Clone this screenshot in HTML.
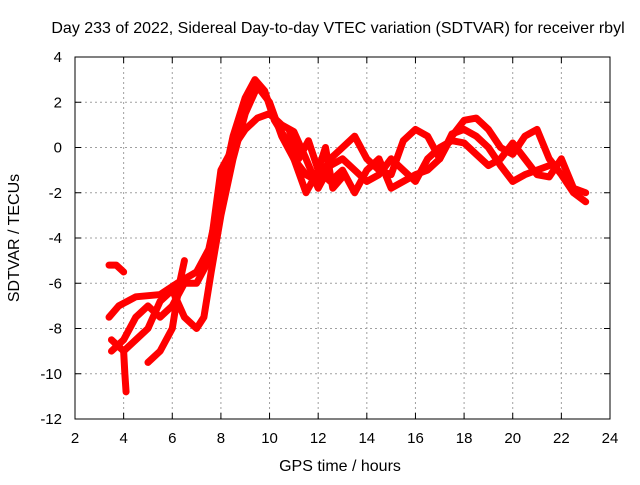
<!DOCTYPE html>
<html><head><meta charset="utf-8"><style>
body{margin:0;background:#fff}
svg text{font-family:"Liberation Sans",sans-serif;font-size:15px;fill:#000}
svg text.big{font-size:16px}
</style></head><body>
<svg width="640" height="480">
<rect width="640" height="480" fill="#fff"/>
<g id="grid"></g>
<g id="series"></g>
<rect x="75" y="57" width="535" height="362" fill="none" stroke="#000" stroke-width="1"/>
<g id="ticks"></g>
<text class="big" x="338" y="33" text-anchor="middle">Day 233 of 2022, Sidereal Day-to-day VTEC variation (SDTVAR) for receiver rbyl</text>
<text class="big" x="340" y="471" text-anchor="middle">GPS time / hours</text>
<text class="big" transform="translate(19,238) rotate(-90)" text-anchor="middle">SDTVAR / TECUs</text>
</svg>
<script>
const xTicks=[2,4,6,8,10,12,14,16,18,20,22,24];
const yTicks=[4,2,0,-2,-4,-6,-8,-10,-12];
const seriesA=[[3.4,-7.5],[3.8,-7.0],[4.5,-6.6],[5.5,-6.5],[6.2,-6.0],[7.0,-5.5],[7.5,-4.5],[8.0,-2],[8.5,0.5],[9.0,2.2],[9.4,3.0],[9.8,2.5],[10.2,1.2],[10.6,0.5],[11.0,-0.5],[11.5,-1.2],[12.0,-1.5],[12.5,-0.5],[13,0],[13.5,0.5],[14,-0.5],[14.5,-1],[15,-1.2],[15.5,0.3],[16,0.8],[16.5,0.5],[17,-0.5],[17.5,0.5],[18,1.2],[18.5,1.3],[19,0.8],[19.5,0],[20,-0.3],[20.5,0.5],[21,0.8],[21.5,-0.5],[22,-1.2],[22.5,-2],[23,-2.4]];
const seriesB=[[3.5,-9],[4.0,-8.5],[4.5,-7.5],[5,-7],[5.5,-7.5],[6,-7],[6.5,-6],[7,-6],[7.5,-5],[8,-1],[8.5,0],[9,0.8],[9.5,1.3],[10,1.5],[10.5,1],[11,0.7],[11.5,-0.5],[12,-1.8],[12.5,-0.8],[13,-0.5],[13.5,-1],[14,-1.5],[14.5,-1.2],[15,-0.5],[15.5,-1],[16,-1.5],[16.5,-0.5],[17,0],[17.5,0.3],[18,0.2],[18.5,-0.3],[19,-0.8],[19.5,-0.5],[20,0.2],[20.5,-0.5],[21,-1.2],[21.5,-1.3],[22,-0.5],[22.5,-1.8],[23,-2]];
const seriesC=[[3.5,-8.5],[4,-9],[4.5,-8.5],[5,-8],[5.5,-6.8],[6,-6.3],[6.5,-7.5],[7,-8],[7.3,-7.5],[7.6,-5.5],[8,-3],[8.5,-0.5],[9,1.5],[9.5,2.7],[10,2],[10.5,0.5],[11,-0.5],[11.5,-2],[12,-1],[12.5,-1.5],[13,-1],[13.5,-2],[14,-1],[14.5,-0.5],[15,-1.8],[15.5,-1.5],[16,-1.2],[16.5,-1],[17,-0.5],[17.5,0.6],[18,0.8],[18.5,0.5],[19,0],[19.5,-0.8],[20,-1.5],[20.5,-1.2],[21,-1],[21.5,-0.8]];
const seriesD=[[5,-9.5],[5.5,-9],[6,-8],[6.3,-6],[6.5,-5]];
const seriesE=[[3.4,-5.2],[3.7,-5.2],[4,-5.5]];
const seriesF=[[4,-9],[4.05,-10],[4.1,-10.8]];
const seriesG=[[10.8,0.8],[11.2,-0.5],[11.6,0.3],[12,-1],[12.3,0],[12.6,-1.8],[13,-1.3]];
const NS='http://www.w3.org/2000/svg';
const X=h=>75+(h-2)*535/22, Y=v=>57+(4-v)*362/16;
const grid=document.getElementById('grid'), ticks=document.getElementById('ticks'), ser=document.getElementById('series');
function mk(tag,attrs,parent){const e=document.createElementNS(NS,tag);for(const k in attrs)e.setAttribute(k,attrs[k]);parent.appendChild(e);return e;}
xTicks.forEach(t=>{
  if(t>2&&t<24){const g=mk('line',{x1:X(t),x2:X(t),y1:57,y2:419,stroke:'#a0a0a0','stroke-dasharray':'2,3'},grid);
  
  }
  const a=mk('line',{x1:X(t),x2:X(t),y1:419,y2:413,stroke:'#000'},ticks);
  
  
  const b=mk('line',{x1:X(t),x2:X(t),y1:57,y2:63,stroke:'#000'},ticks);
  
  
  const l=mk('text',{x:X(t),y:443,'text-anchor':'middle'},ticks);l.textContent=t;
  
  
});
yTicks.forEach(t=>{
  if(t<4&&t>-12){const g=mk('line',{x1:75,x2:610,y1:Y(t),y2:Y(t),stroke:'#a0a0a0','stroke-dasharray':'2,3'},grid);
  
  }
  const a=mk('line',{x1:75,x2:81,y1:Y(t),y2:Y(t),stroke:'#000'},ticks);
  
  
  const b=mk('line',{x1:604,x2:610,y1:Y(t),y2:Y(t),stroke:'#000'},ticks);
  
  
  const l=mk('text',{x:62,y:Y(t)+5,'text-anchor':'end'},ticks);l.textContent=t;
  
  
});
[seriesA,seriesB,seriesC,seriesD,seriesE,seriesF,seriesG].forEach((s,i)=>{
  const p=mk('polyline',{points:s.map(d=>X(d[0])+','+Y(d[1])).join(' '),fill:'none',stroke:'#ff0000','stroke-width':7,'stroke-linejoin':'round','stroke-linecap':'round'},ser);
  
  
});
</script>
</body></html>
